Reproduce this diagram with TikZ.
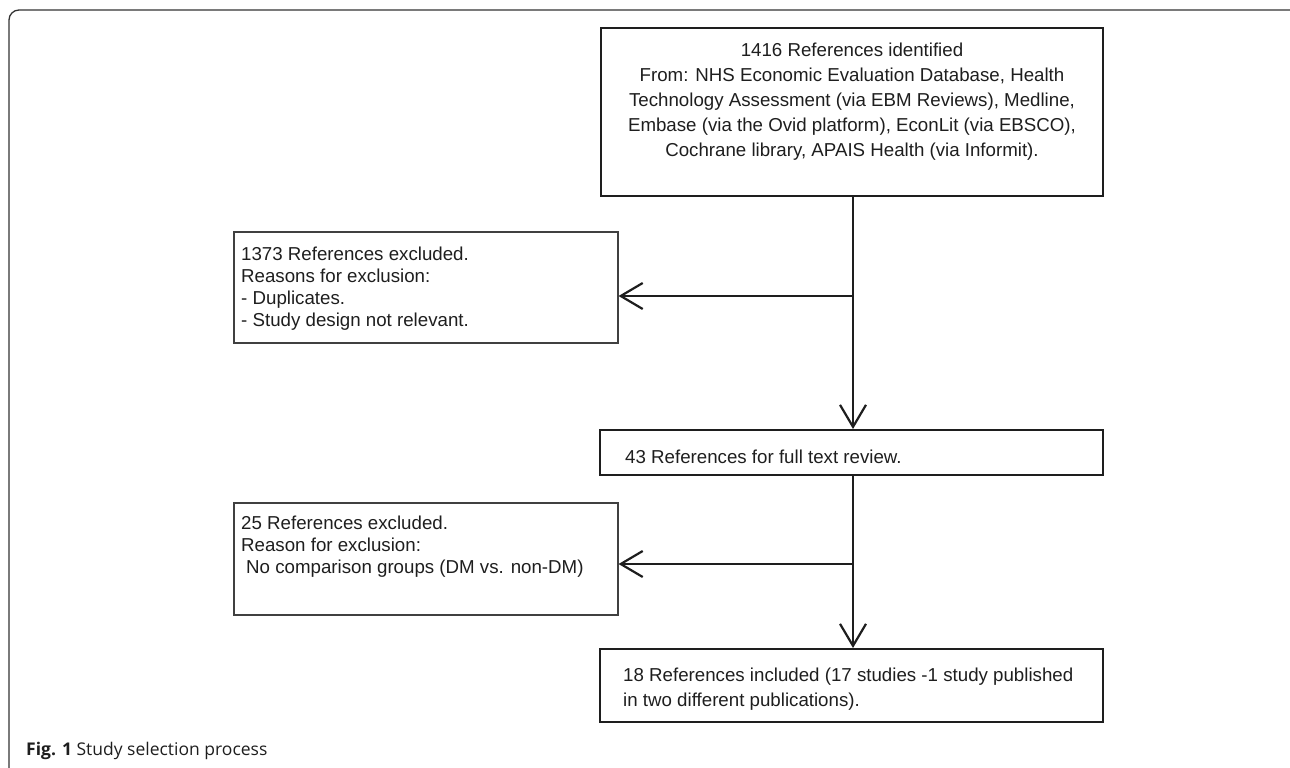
\documentclass[tikz,border=0pt]{standalone}
\usepackage{fontspec}
\setmainfont{Liberation Sans}
\newfontfamily\capfont{Open Sans}
\usetikzlibrary{arrows.meta}
\definecolor{ink}{HTML}{1E1E1E}
\definecolor{framec}{HTML}{333333}
\begin{document}
\begin{tikzpicture}[x=1pt,y=-1pt,
  thickbox/.style={draw=ink, line width=2pt, inner sep=0pt, rectangle},
  thinbox/.style={draw=ink!85, line width=1.1pt, inner sep=0pt, rectangle},
  txt/.style={inner sep=0pt, text=ink, font=\fontsize{18.7}{25}\selectfont},
  conn/.style={draw=ink, line width=2.2pt},
  arr/.style={conn, -{Straight Barb[length=22pt,width=26pt]}},
]
\useasboundingbox (0,0) rectangle (1290,768);
\clip (0,0) rectangle (1290,768);
\draw[framec, line width=1.3pt, rounded corners=10pt] (9,10) rectangle (1302,778);

% boxes
\node[thickbox, minimum width=502pt, minimum height=168pt] (b1) at (852,112) {};
\node[thinbox, minimum width=384pt, minimum height=111pt] (b2) at (426,287.5) {};
\node[thickbox, minimum width=503pt, minimum height=45pt] (b3) at (851.5,452.5) {};
\node[thinbox, minimum width=384pt, minimum height=112pt] (b4) at (426,559) {};
\node[thickbox, minimum width=503pt, minimum height=73pt] (b5) at (851.5,685.5) {};

% texts
\node[txt, anchor=north, align=center] (t1) at (852,43) {1416 References identified\\From: NHS Economic Evaluation Database, Health\\Technology Assessment (via EBM Reviews), Medline,\\Embase (via the Ovid platform), EconLit (via EBSCO),\\Cochrane library, APAIS Health (via Informit).};
\node[txt, anchor=north west, align=left, font=\fontsize{18.7}{22}\selectfont] (t2) at (241,247) {1373 References excluded.\\Reasons for exclusion:\\- Duplicates.\\- Study design not relevant.};
\node[txt, anchor=north west, align=left] (t3) at (625,450) {43 References for full text review.};
\node[txt, anchor=north west, align=left, font=\fontsize{18.7}{22}\selectfont] (t4) at (241,516) {25 References excluded.\\Reason for exclusion:\\\hspace*{5pt}No comparison groups (DM vs. non-DM)};
\node[txt, anchor=north west, align=left] (t5) at (623,668) {18 References included (17 studies -1 study published\\in two different publications).};

% caption
\node[inner sep=0pt, anchor=base west, text=ink, font=\capfont\fontsize{17.5}{20}\selectfont] (cap) at (26,755) {\textbf{Fig. 1} Study selection process};

% connectors
\coordinate (j1) at (853,296);
\coordinate (j2) at (853,564);
\draw[conn] (b1.south -| j1) -- (j1);
\draw[arr] (j1) -- (b3.north -| j1);
\draw[arr] (j1) -- (j1 -| b2.east);
\draw[conn] (b3.south -| j2) -- (j2);
\draw[arr] (j2) -- (b5.north -| j2);
\draw[arr] (j2) -- (j2 -| b4.east);
\end{tikzpicture}
\end{document}
